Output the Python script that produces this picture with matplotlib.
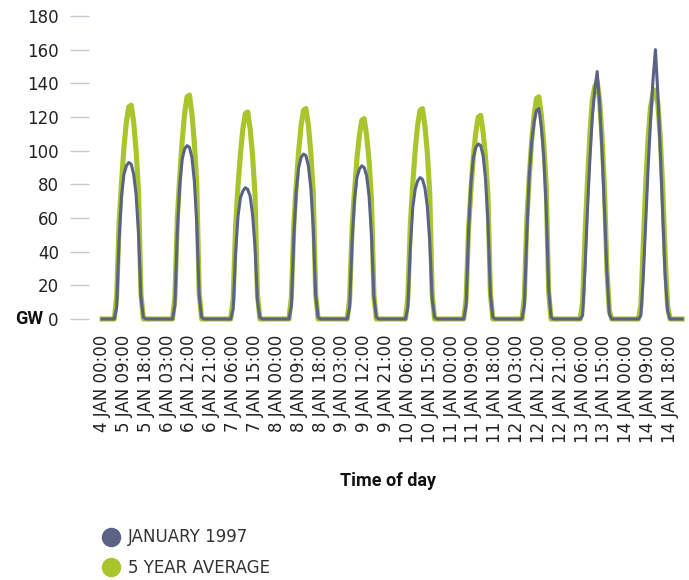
import matplotlib
matplotlib.use("Agg")
import matplotlib.pyplot as plt
from matplotlib.lines import Line2D

# Hourly solar output (GW), 5-14 January; each day is zero outside 06:00-17:00
day_names = ["5 JAN", "6 JAN", "7 JAN", "8 JAN", "9 JAN",
             "10 JAN", "11 JAN", "12 JAN", "13 JAN", "14 JAN"]
daylight_hours = [6, 7, 8, 9, 10, 11, 12, 13, 14, 15, 16, 17]

jan_1997 = [
    [7, 47, 73, 86, 91, 93, 92, 86, 74, 51, 13, 1],
    [8, 52, 80, 95, 101, 103, 102, 96, 82, 57, 14, 1],
    [6, 39, 61, 72, 76, 78, 77, 73, 62, 43, 11, 1],
    [8, 49, 76, 90, 96, 98, 97, 91, 78, 54, 14, 1],
    [7, 46, 71, 84, 89, 91, 90, 85, 73, 50, 13, 1],
    [7, 42, 66, 77, 82, 84, 83, 78, 67, 46, 12, 1],
    [8, 52, 81, 96, 102, 104, 103, 97, 83, 57, 15, 1],
    [8, 50, 85, 105, 117, 124, 125, 114, 96, 66, 18, 1],
    [2, 30, 65, 95, 120, 136, 147, 128, 100, 65, 28, 3],
    [2, 25, 58, 90, 118, 142, 160, 134, 100, 62, 26, 5],
]

five_year_avg = [
    [13, 57, 81, 102, 117, 126, 127, 117, 100, 76, 15, 0],
    [13, 60, 85, 106, 122, 132, 133, 122, 105, 80, 16, 0],
    [12, 55, 79, 98, 113, 122, 123, 113, 97, 74, 15, 0],
    [13, 56, 80, 100, 115, 124, 125, 115, 99, 75, 15, 0],
    [12, 54, 76, 95, 109, 118, 119, 109, 94, 71, 14, 0],
    [13, 56, 80, 100, 115, 124, 125, 115, 99, 75, 15, 0],
    [12, 54, 77, 97, 111, 120, 121, 111, 96, 73, 15, 0],
    [13, 59, 84, 106, 121, 131, 132, 121, 104, 79, 16, 0],
    [10, 50, 82, 110, 130, 138, 141, 130, 108, 78, 30, 5],
    [8, 45, 80, 108, 126, 134, 136, 128, 108, 78, 38, 8],
]

tick_labels = [
    "4 JAN 00:00", "5 JAN 09:00", "5 JAN 18:00", "6 JAN 03:00", "6 JAN 12:00",
    "6 JAN 21:00", "7 JAN 06:00", "7 JAN 15:00", "8 JAN 00:00", "8 JAN 09:00",
    "8 JAN 18:00", "9 JAN 03:00", "9 JAN 12:00", "9 JAN 21:00", "10 JAN 06:00",
    "10 JAN 15:00", "11 JAN 00:00", "11 JAN 09:00", "11 JAN 18:00", "12 JAN 03:00",
    "12 JAN 12:00", "12 JAN 21:00", "13 JAN 06:00", "13 JAN 15:00", "14 JAN 00:00",
    "14 JAN 09:00", "14 JAN 18:00",
]
y_ticks = [0, 20, 40, 60, 80, 100, 120, 140, 160, 180]

BLUE = "#5b6284"
GREEN = "#a9c52c"
TICK_GREY = "#c7c8d8"
TEXT = "#222222"


def hourly_series(days):
    values = []
    for day in days:
        by_hour = dict(zip(daylight_hours, day))
        values.extend(by_hour.get(h, 0) for h in range(24))
    return values


blue_vals = hourly_series(jan_1997)
green_vals = hourly_series(five_year_avg)
hours = list(range(len(blue_vals)))

plt.rcParams["font.family"] = ["DejaVu Sans"]

fig = plt.figure(figsize=(6.89, 5.80), dpi=100)
ax = fig.add_axes([89 / 689, 1 - 319 / 580, (686 - 89) / 689, (319 - 16) / 580])

ax.plot(hours, green_vals, color=GREEN, lw=3.7, solid_joinstyle="round",
        clip_on=False, zorder=2)
ax.plot(hours, blue_vals, color=BLUE, lw=2.2, solid_joinstyle="round",
        clip_on=False, zorder=3)

ax.set_ylim(0, 180)
ax.set_xlim(-5.4, 240.6)

ax.set_yticks(y_ticks)
ax.set_yticklabels([str(v) for v in y_ticks], fontsize=12, color=TEXT)
ax.tick_params(axis="y", length=13.7, width=1.0, color=TICK_GREY, pad=8)

ax.set_xticks(range(0, 9 * len(tick_labels), 9))
ax.set_xticklabels(tick_labels, rotation=90, fontsize=12, color=TEXT,
                   ha="center", va="top")
ax.tick_params(axis="x", length=0, pad=11.5)

for s in ax.spines.values():
    s.set_visible(False)

ax.set_xlabel("Time of day", family="Roboto", fontweight="bold", fontsize=13,
              color="#111111", labelpad=21)

fig.text(43 / 689, 1 - 319 / 580, "GW", family="Roboto", fontweight="bold",
         fontsize=13, color="#111111", ha="right", va="center")

handles = [
    Line2D([], [], ls="none", marker="o", markersize=13, color=BLUE),
    Line2D([], [], ls="none", marker="o", markersize=13, color=GREEN),
]
fig.legend(handles, ["JANUARY 1997", "5 YEAR AVERAGE"], loc="upper left",
           bbox_to_anchor=(101.6 / 689, 1 - 528.5 / 580), frameon=False,
           fontsize=12, labelcolor="#333333", handlelength=1.1,
           handletextpad=0.47, labelspacing=0.73, borderpad=0,
           borderaxespad=0)

fig.savefig("out.png", dpi=100)
